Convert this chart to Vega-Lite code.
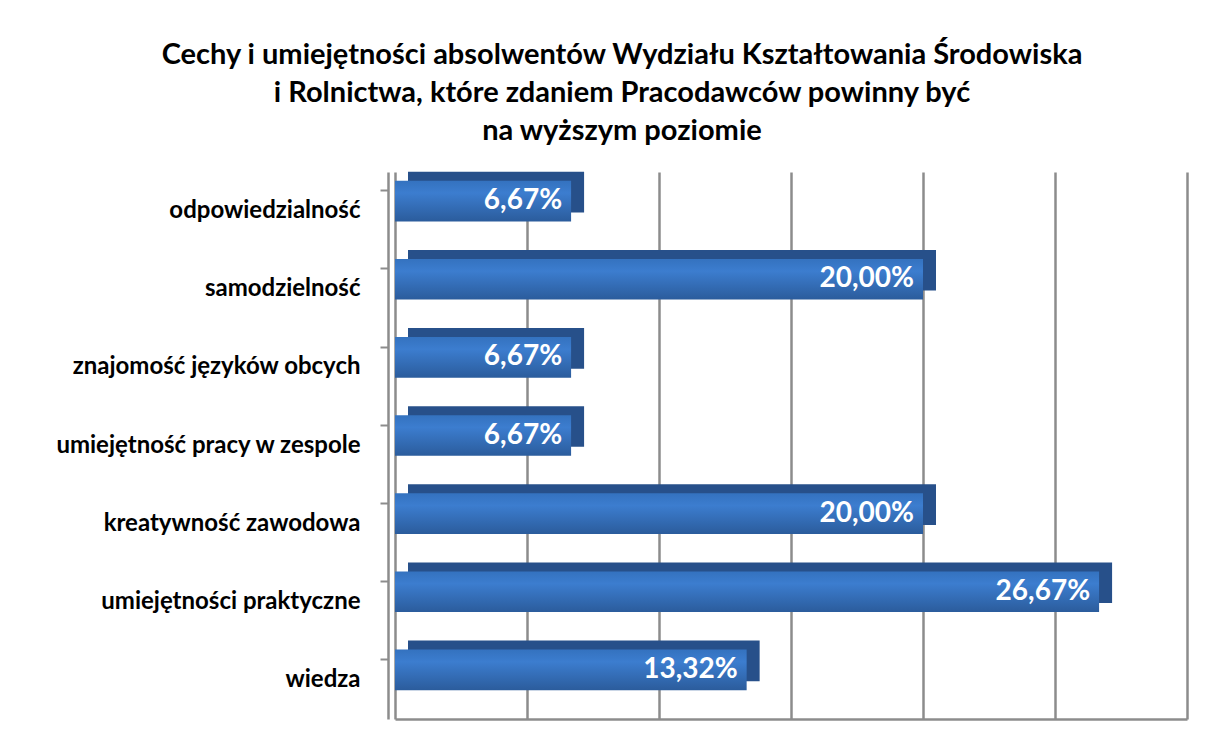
{
  "$schema": "https://vega.github.io/schema/vega-lite/v6.json",
  "width": 792,
  "height": 547,
  "autosize": {"type": "none"},
  "padding": {"left": 395, "top": 172, "right": 37, "bottom": 12},
  "background": "white",
  "config": {
    "locale": {"number": {"decimal": ",", "thousands": " ", "grouping": [3], "currency": ["", " zł"]}},
    "font": "Lato",
    "view": {"stroke": null}
  },
  "title": {
    "text": ["Cechy i umiejętności absolwentów Wydziału Kształtowania Środowiska", "i Rolnictwa, które zdaniem Pracodawców powinny być", "na wyższym poziomie"],
    "font": "Lato",
    "fontSize": 29,
    "fontWeight": "bold",
    "color": "#000000",
    "lineHeight": 38,
    "anchor": "middle",
    "dx": -169,
    "offset": 26
  },
  "data": {
    "values": [
      {"cecha": "odpowiedzialność", "udzial": 0.0667},
      {"cecha": "samodzielność", "udzial": 0.2},
      {"cecha": "znajomość języków obcych", "udzial": 0.0667},
      {"cecha": "umiejętność pracy w zespole", "udzial": 0.0667},
      {"cecha": "kreatywność zawodowa", "udzial": 0.2},
      {"cecha": "umiejętności praktyczne", "udzial": 0.2667},
      {"cecha": "wiedza", "udzial": 0.1332}
    ]
  },
  "encoding": {
    "y": {
      "field": "cecha",
      "type": "nominal",
      "sort": null,
      "scale": {"paddingInner": 0.48, "paddingOuter": 0.24},
      "axis": {
        "title": null,
        "offset": 7,
        "bandPosition": 0,
        "domainColor": "#8c8c8c",
        "domainWidth": 2.5,
        "tickColor": "#8c8c8c",
        "tickWidth": 2,
        "tickSize": 8,
        "labelFont": "Lato",
        "labelFontSize": 24,
        "labelFontWeight": "bold",
        "labelColor": "#000000",
        "labelPadding": 20,
        "labelLimit": 400
      }
    },
    "x": {
      "field": "udzial",
      "type": "quantitative",
      "scale": {"domain": [0, 0.3], "nice": false},
      "axis": {
        "title": null,
        "values": [0, 0.05, 0.1, 0.15, 0.2, 0.25, 0.3],
        "labels": false,
        "ticks": false,
        "grid": true,
        "gridColor": "#8c8c8c",
        "gridWidth": 2.5,
        "domainColor": "#8c8c8c",
        "domainWidth": 2.5
      }
    }
  },
  "layer": [
    {"mark": {"type": "bar", "color": "#27508a", "xOffset": 13, "yOffset": -19}},
    {"mark": {"type": "bar", "yOffset": -10, "color": {"gradient": "linear", "x1": 0, "y1": 0, "x2": 0, "y2": 1, "stops": [{"offset": 0, "color": "#3472bf"}, {"offset": 0.3, "color": "#3c7dcf"}, {"offset": 1, "color": "#2b5c9c"}]}}},
    {
      "mark": {"type": "text", "align": "right", "baseline": "middle", "dx": -9, "yOffset": -10, "color": "white", "fontSize": 28, "fontWeight": "bold", "font": "Lato"},
      "encoding": {"text": {"field": "udzial", "type": "quantitative", "format": ".2%"}}
    }
  ]
}
